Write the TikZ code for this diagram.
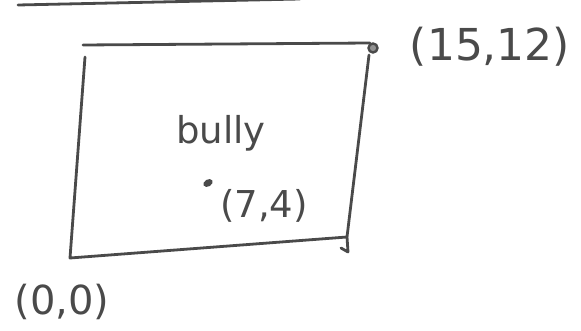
\documentclass[tikz,border=0pt]{standalone}
\usepackage{fontspec}
\usetikzlibrary{shapes.geometric}
\setmainfont{DejaVu Sans}
\definecolor{pencil}{HTML}{4A4A4A}
\begin{document}
\begin{tikzpicture}[x=1pt,y=-1pt,
  stroke/.style={draw=pencil,line width=2.8pt,line cap=round,line join=round},
  lbl/.style={text=pencil,inner sep=0pt,anchor=center}]
\useasboundingbox (0,0) rectangle (581,331);
% stray line at the top
\coordinate (s1) at (18,5);
\coordinate (s2) at (300,-1);
\draw[stroke] (s1) -- (s2);
% rectangle corners
\coordinate (tl) at (83,45);
\coordinate (tr) at (370,43);
\coordinate (lt) at (85,57);
\coordinate (bl) at (70,258);
\coordinate (br) at (347,237);
\coordinate (rt) at (369,55);
\coordinate (rb) at (348,252);
\coordinate (hk) at (341,248);
\draw[stroke] (tl) -- (tr);
\draw[stroke] (lt) -- (bl) -- (br);
\draw[stroke] (rt) -- (br) -- (rb) -- (hk);
% corner point
\node[circle,draw=pencil,line width=2.4pt,fill=pencil!60,minimum size=9pt,inner sep=0pt] (p) at (373,48) {};
\node[lbl,font=\fontsize{44}{48}\selectfont] (ptl) at (490,47) {(15,12)};
% origin
\node[lbl,font=\fontsize{40}{44}\selectfont] (o) at (62,302) {(0,0)};
% bully
\node[lbl,font=\fontsize{37}{40}\selectfont] (b) at (221,133) {bully};
\node[ellipse,fill=pencil,minimum width=10pt,minimum height=7pt,inner sep=0pt,rotate=30] (d) at (208,183) {};
\node[lbl,font=\fontsize{37}{40}\selectfont] (dl) at (264,206) {(7,4)};
\end{tikzpicture}
\end{document}
